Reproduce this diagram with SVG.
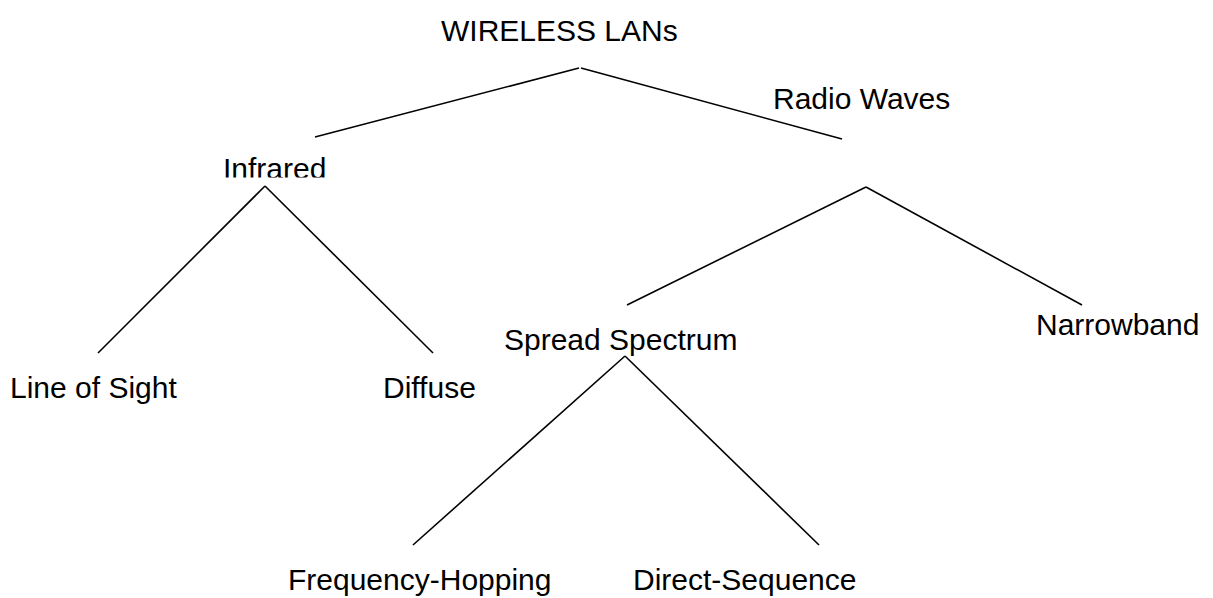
<svg xmlns="http://www.w3.org/2000/svg" width="1213" height="598" viewBox="0 0 1213 598">
<style>
.t{font-family:"Liberation Sans",Arial,sans-serif;font-size:30px;fill:#000}
.c line{stroke:#000;stroke-width:1.6;fill:none}
</style>
<defs><clipPath id="clipInf"><rect x="200" y="140" width="160" height="37.5"/></clipPath></defs>
<rect width="1213" height="598" fill="#fff"/>
<g class="c" id="connectors">
<line x1="579" y1="68" x2="315" y2="137"/>
<line x1="581" y1="68" x2="842" y2="139"/>
<line x1="265" y1="186" x2="98" y2="353"/>
<line x1="265" y1="186" x2="433" y2="353"/>
<line x1="866" y1="187" x2="627" y2="305"/>
<line x1="866" y1="187" x2="1082" y2="305"/>
<line x1="625" y1="356" x2="413" y2="545"/>
<line x1="625" y1="356" x2="819" y2="545"/>
</g>
<g id="n-wireless"><text class="t" x="441" y="41">WIRELESS LANs</text></g>
<g id="n-radio"><text class="t" x="773" y="109">Radio Waves</text></g>
<g id="n-infrared" clip-path="url(#clipInf)"><text class="t" x="223" y="179">Infrared</text></g>
<g id="n-los"><text class="t" x="10" y="398">Line of Sight</text></g>
<g id="n-diffuse"><text class="t" x="383" y="398">Diffuse</text></g>
<g id="n-spread"><text class="t" x="504" y="350">Spread Spectrum</text></g>
<g id="n-narrow"><text class="t" x="1036" y="335">Narrowband</text></g>
<g id="n-fh"><text class="t" x="288" y="590">Frequency-Hopping</text></g>
<g id="n-ds"><text class="t" x="633" y="590">Direct-Sequence</text></g>
</svg>
